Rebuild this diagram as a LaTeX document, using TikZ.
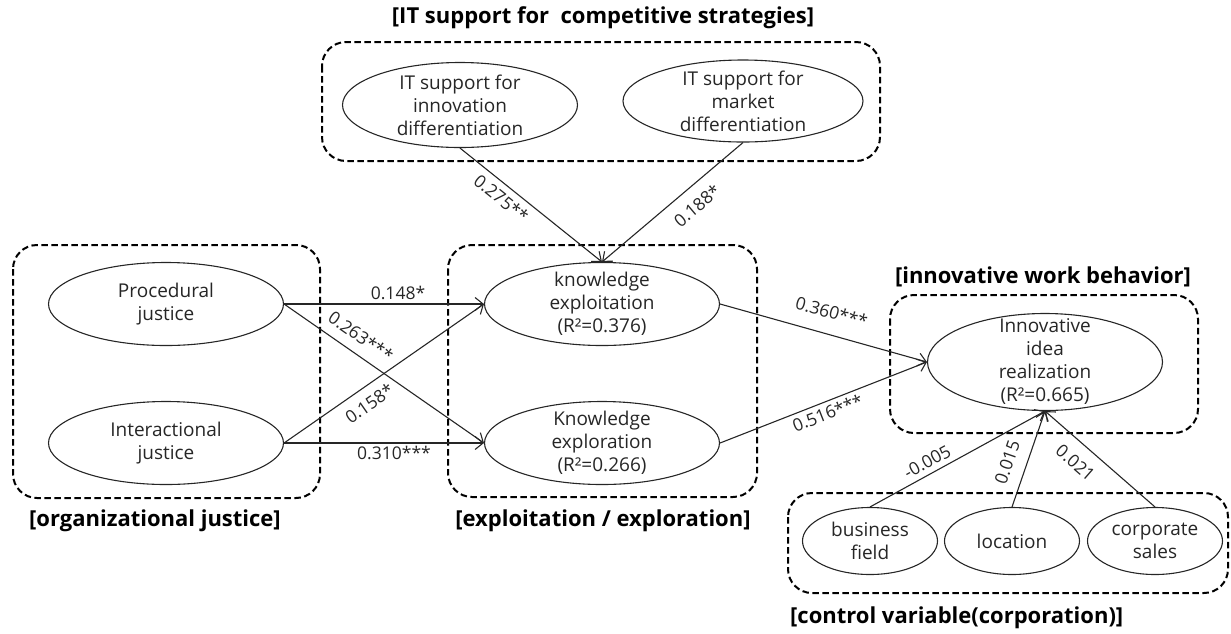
\documentclass[tikz,border=0pt]{standalone}
\usepackage{fontspec}
\setmainfont{Open Sans}
\usetikzlibrary{shapes.geometric,arrows.meta}

\tikzset{
  latent/.style={ellipse,draw=black!85,line width=1.1pt,inner sep=0pt,inner ysep=-10pt,
    minimum width=235pt,minimum height=83pt,align=center,text=black!85,
    font=\fontsize{19}{23}\selectfont},
  control/.style={latent,minimum width=135pt,minimum height=67pt},
  groupbox/.style={draw=black,line width=2pt,rounded corners=24pt,dash pattern=on 6.5pt off 3.5pt},
  grouptitle/.style={font=\bfseries\fontsize{22}{24}\selectfont,inner sep=0pt},
  coef/.style={font=\fontsize{17.5}{19}\selectfont,text=black!85,inner sep=1pt,sloped},
  link/.style={draw=black!85,line width=1.1pt,->}
}

\begin{document}
\begin{tikzpicture}[x=1pt,y=-1pt,>={Straight Barb[length=8pt,width=13pt]}]
 \useasboundingbox (0,0) rectangle (1231,633);
 \draw[groupbox](322,42) rectangle (880,161);
 \draw[groupbox](13,245) rectangle (320,498);
 \draw[groupbox](448,245) rectangle (757,497);
 \draw[groupbox](890,295) rectangle (1198,433);
 \draw[groupbox](788,493) rectangle (1228,593);
 \node[grouptitle] (tstrat) at (603,18) {[IT support for~ competitive strategies]};
 \node[grouptitle] (tjust) at (155,521) {[organizational justice]};
 \node[grouptitle] (texpl) at (603,521) {[exploitation / exploration]};
 \node[grouptitle] (tinnov) at (1043,277) {[innovative work behavior]};
 \node[grouptitle,anchor=west] (tcontrol) at (790,618) {[control variable(corporation)]};
 \node[latent,minimum height=85pt] (innovdiff) at (460,105) {IT support for\\innovation\\differentiation};
 \node[latent,minimum width=240pt,minimum height=82pt] (marketdiff) at (743,101) {IT support for\\market\\differentiation};
 \node[latent] (proc) at (166,304) {Procedural\\justice};
 \node[latent] (inter) at (166,443) {Interactional\\justice};
 \node[latent] (exploit) at (602,304) {knowledge\\exploitation\\(R²=0.376)};
 \node[latent] (explor) at (602,443) {Knowledge\\exploration\\(R²=0.266)};
 \node[latent,minimum height=97pt] (real) at (1045,362) {Innovative\\idea\\realization\\(R²=0.665)};
 \node[control] (field) at (870,541) {business\\field};
 \node[control] (loc) at (1012,541) {location};
 \node[control] (sales) at (1155,541) {corporate\\sales};
 \draw[link](innovdiff.south) -- node[coef,pos=0.35,below=5pt]{0.275**} (exploit.north);
 \draw[link](marketdiff.south) -- node[coef,pos=0.41,below=10pt]{0.188*} (exploit.north);
 \draw[link](proc.east) -- node[coef,pos=0.57,above=3pt]{0.148*} (exploit.west);
 \draw[link](proc.east) -- node[coef,pos=0.335,above=9pt]{0.263***} (explor.west);
 \draw[link](inter.east) -- node[coef,pos=0.38,below=8pt]{0.158*} (exploit.west);
 \draw[link](inter.east) -- node[coef,pos=0.55,below=2pt]{0.310***} (explor.west);
 \draw[link](exploit.east) -- node[coef,pos=0.51,above=14pt]{0.360***} (real.west);
 \draw[link](explor.east) -- node[coef,pos=0.5,below=3pt]{0.516***} (real.west);
 \draw[link](field.north) -- node[coef,pos=0.36,above=4pt]{-0.005} (real.south);
 \draw[link](loc.north) -- node[coef,pos=0.4,above=11pt]{0.015} (real.south);
 \draw[link](sales.north) -- node[coef,pos=0.61,below=11pt]{0.021} (real.south);
\end{tikzpicture}
\end{document}
